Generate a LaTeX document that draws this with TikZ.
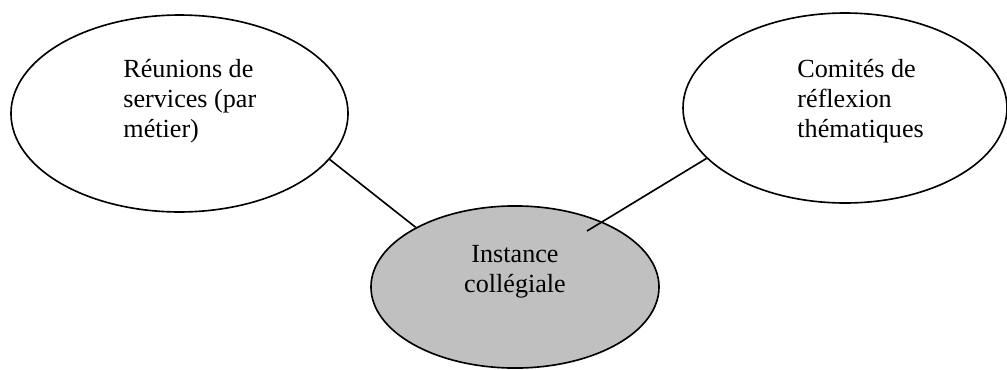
\documentclass[tikz,border=0pt]{standalone}
\usepackage{fontspec}
\setmainfont{Liberation Serif}
\usetikzlibrary{shapes.geometric}
\definecolor{fillgrey}{HTML}{C0C0C0}
\tikzset{
  bubble/.style={draw=black, line width=0.75pt, ellipse, inner sep=0pt},
  conn/.style={draw=black, line width=0.75pt},
  txt/.style={inner sep=0pt, font=\fontsize{12}{13.6}\selectfont}
}
\begin{document}
\begin{tikzpicture}[x=0.459pt,y=-0.459pt]
\useasboundingbox (0,0) rectangle (1007,369);
\node[bubble, minimum width=154.7pt, minimum height=90.4pt] (left) at (179.5,113.5) {};
\node[bubble, minimum width=148.7pt, minimum height=87.2pt] (right) at (845,108) {};
\node[bubble, fill=fillgrey, minimum width=132.2pt, minimum height=74.4pt] (bottom) at (515,287) {};
\node[txt, anchor=base west, align=left] (ltxt) at (123,137) {Réunions de\\services (par\\métier)};
\node[txt, anchor=base west, align=left] (rtxt) at (797,137) {Comités de\\réflexion\\thématiques};
\node[txt, anchor=base, align=center] (btxt) at (515,292) {Instance\\collégiale};
\coordinate (rend) at (587,231);
\draw[conn] (left.-17.6) -- (bottom.149.1);
\draw[conn] (right.200.2) -- (rend);
\end{tikzpicture}
\end{document}
